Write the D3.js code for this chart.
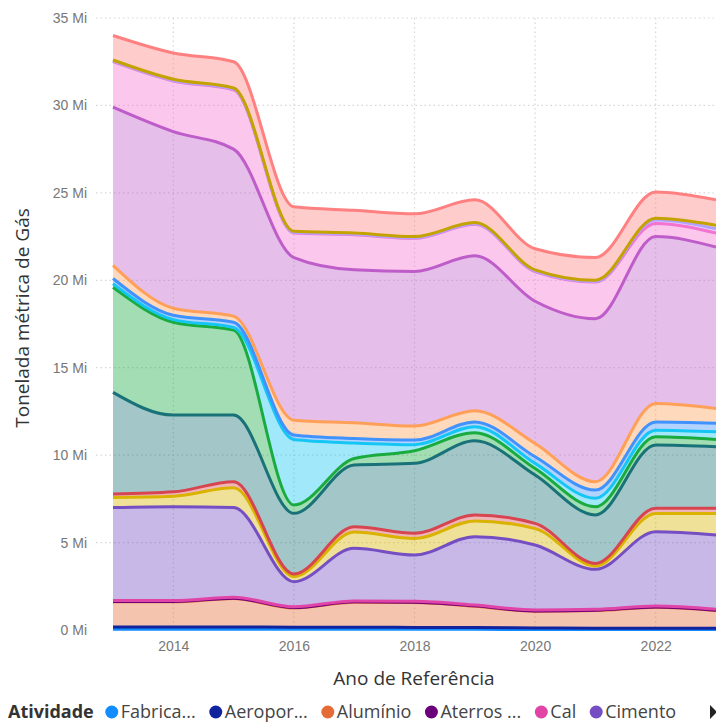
<!DOCTYPE html>
<html>
<head>
<meta charset="utf-8">
<script src="https://cdn.jsdelivr.net/npm/d3@7"></script>
<style>
  body { margin: 0; background: #fff; }
  svg { display: block; font-family: "Segoe UI", "Open Sans", "Noto Sans", sans-serif; }
</style>
</head>
<body>
<svg class="area" width="716" height="722"></svg>
<script>
// data (Mi = milhões de toneladas)
const years = [2013, 2014, 2015, 2016, 2017, 2018, 2019, 2020, 2021, 2022, 2023];
const categories = ["Fabricação de equipamentos", "Aeroportos", "Alumínio", "Aterros sanitários", "Cal", "Cimento",
  "Ferroligas", "Magnésio", "Outras indústrias", "Papel e celulose", "Petroquímica", "Química",
  "Refrigeração", "Siderurgia", "Soda-barrilha", "Vidro", "Zinco", "Uso de HFCs"];
const legendLabels = ["Fabrica...", "Aeropor...", "Alumínio", "Aterros ...", "Cal", "Cimento"];
const yTicks = [0, 5, 10, 15, 20, 25, 30, 35];
const xTicks = [2014, 2016, 2018, 2020, 2022];

const fabricacao  = [0.04, 0.04, 0.04, 0.04, 0.04, 0.04, 0.04, 0.03, 0.03, 0.03, 0.03];
const aeroportos  = [0.13, 0.13, 0.13, 0.12, 0.12, 0.11, 0.10, 0.09, 0.07, 0.07, 0.07];
const aluminio    = [1.44, 1.44, 1.63, 1.10, 1.43, 1.42, 1.22, 0.95, 1.01, 1.20, 1.01];
const aterros     = [0.02, 0.02, 0.02, 0.02, 0.02, 0.02, 0.02, 0.02, 0.02, 0.02, 0.02];
const cal         = [0.05, 0.05, 0.05, 0.05, 0.05, 0.05, 0.05, 0.05, 0.05, 0.05, 0.05];
const cimento     = [5.32, 5.37, 5.13, 1.43, 3.01, 2.65, 3.91, 3.72, 2.29, 4.25, 4.25];
const ferroligas  = [0.58, 0.60, 1.13, 0.29, 0.93, 0.94, 0.89, 0.94, 0.19, 1.04, 1.23];
const magnesio    = [0.20, 0.25, 0.35, 0.15, 0.30, 0.30, 0.35, 0.30, 0.15, 0.30, 0.30];
const outras      = [5.81, 4.39, 3.81, 3.47, 3.53, 4.00, 4.24, 2.76, 2.77, 3.62, 3.52];
const papel       = [6.01, 5.31, 4.86, 0.48, 0.38, 0.72, 0.46, 0.38, 0.47, 0.47, 0.42];
const petroquim   = [0.20, 0.15, 0.15, 3.75, 0.89, 0.35, 0.35, 0.29, 0.48, 0.38, 0.44];
const quimica     = [0.30, 0.25, 0.30, 0.25, 0.25, 0.26, 0.27, 0.38, 0.47, 0.47, 0.48];
const refrigeracao= [0.75, 0.40, 0.35, 0.85, 0.90, 0.80, 0.64, 0.76, 0.48, 1.06, 0.85];
const siderurgia  = [9.05, 10.1, 9.55, 9.30, 8.75, 8.84, 8.86, 8.13, 9.32, 9.54, 9.23];
const soda        = [2.60, 2.90, 3.40, 1.40, 2.00, 1.90, 1.80, 1.70, 2.10, 0.75, 0.80];
const vidro       = [0.03, 0.03, 0.03, 0.03, 0.03, 0.03, 0.03, 0.03, 0.03, 0.20, 0.25];
const zinco       = [0.07, 0.07, 0.07, 0.07, 0.07, 0.07, 0.07, 0.07, 0.07, 0.10, 0.20];
const hfcs        = [1.40, 1.50, 1.50, 1.40, 1.30, 1.30, 1.30, 1.20, 1.30, 1.50, 1.45];

const seriesValues = [fabricacao, aeroportos, aluminio, aterros, cal, cimento, ferroligas, magnesio,
  outras, papel, petroquim, quimica, refrigeracao, siderurgia, soda, vidro, zinco, hfcs];

const palette = ["#118DFF", "#12239E", "#E66C37", "#6B007B", "#E044A7", "#744EC2", "#D9B300", "#D64550",
  "#197278", "#1AAB40", "#15C6F4", "#4092FF", "#FFA058", "#BE5DC9", "#F472D0", "#B5A1FF", "#C4A200", "#FF8080"];

(function stackedAreaIIFE() {
    let svg = d3.select("svg.area");
    let plot = {left: 113, right: 716, top: 18, bottom: 630};

    let table = years.map(function(yr, i) {
        let row = {year: yr};
        categories.forEach(function(c, k) { row[c] = seriesValues[k][i] * 1e6; });
        return row;
    });

    let x = d3.scaleLinear().domain([2013, 2023]).range([plot.left, plot.right]);
    let y = d3.scaleLinear().domain([0, 35e6]).range([plot.bottom, plot.top]);
    let color = d3.scaleOrdinal().domain(categories).range(palette);

    let stacked = d3.stack().keys(categories)(table);

    // gridlines
    let grid = svg.append("g").attr("class", "grid");
    grid.selectAll(".hgrid")
        .data(yTicks.slice(1))
        .enter().append("line")
        .attr("x1", 96).attr("x2", plot.right)
        .attr("y1", function(d) { return y(d * 1e6); })
        .attr("y2", function(d) { return y(d * 1e6); })
        .attr("stroke", "#d6d6d6").attr("stroke-width", 1.2)
        .attr("stroke-dasharray", "1.5,3");
    grid.selectAll(".vgrid")
        .data(xTicks)
        .enter().append("line")
        .attr("x1", function(d) { return x(d); })
        .attr("x2", function(d) { return x(d); })
        .attr("y1", plot.top).attr("y2", plot.bottom)
        .attr("stroke", "#d6d6d6").attr("stroke-width", 1.2)
        .attr("stroke-dasharray", "1.5,3");

    let area = d3.area()
        .curve(d3.curveMonotoneX)
        .x(function(d) { return x(d.data.year); })
        .y0(function(d) { return y(d[0]); })
        .y1(function(d) { return y(d[1]); });

    let line = d3.line()
        .curve(d3.curveMonotoneX)
        .x(function(d) { return x(d.data.year); })
        .y(function(d) { return y(d[1]); });

    svg.append("g").selectAll("path")
        .data(stacked)
        .enter().append("path")
        .attr("d", area)
        .attr("fill", function(d) { return color(d.key); })
        .attr("fill-opacity", 0.4);

    svg.append("g").selectAll("path")
        .data(stacked)
        .enter().append("path")
        .attr("d", line)
        .attr("fill", "none")
        .attr("stroke", function(d) { return color(d.key); })
        .attr("stroke-width", 3)
        .attr("stroke-linejoin", "round");

    // y axis labels
    let yAxis = svg.append("g")
        .attr("transform", "translate(87,0)")
        .call(d3.axisLeft(y).tickValues(yTicks.map(function(d) { return d * 1e6; }))
            .tickSize(0).tickPadding(0)
            .tickFormat(function(d) { return (d / 1e6) + " Mi"; }));
    yAxis.select(".domain").remove();
    yAxis.selectAll("text").attr("fill", "#777").style("font-size", "14px");

    // x axis labels
    let xAxis = svg.append("g")
        .attr("transform", "translate(0," + (plot.bottom + 11) + ")")
        .call(d3.axisBottom(x).tickValues(xTicks)
            .tickSize(0).tickPadding(0).tickFormat(d3.format("d")));
    xAxis.select(".domain").remove();
    xAxis.selectAll("text").attr("fill", "#777").style("font-size", "14px");

    svg.append("text")
        .attr("x", 414).attr("y", 685)
        .attr("text-anchor", "middle")
        .attr("fill", "#333").style("font-size", "19px")
        .text("Ano de Referência");

    svg.append("text")
        .attr("transform", "translate(29,318) rotate(-90)")
        .attr("text-anchor", "middle")
        .attr("fill", "#333").style("font-size", "19px")
        .text("Tonelada métrica de Gás");

    // legend
    let legend = svg.append("g").attr("transform", "translate(0,712)");
    let title = legend.append("text")
        .attr("x", 8).attr("y", 6)
        .attr("fill", "#333").style("font-size", "18px").style("font-weight", "bold")
        .text("Atividade");
    let cx = 8 + title.node().getComputedTextLength() + 18;
    legendLabels.forEach(function(lbl, i) {
        legend.append("circle")
            .attr("cx", cx).attr("cy", 0).attr("r", 6.5)
            .attr("fill", palette[i]);
        let t = legend.append("text")
            .attr("x", cx + 9).attr("y", 6)
            .attr("fill", "#444").style("font-size", "18px")
            .text(lbl);
        cx += 9 + t.node().getComputedTextLength() + 20;
    });
    legend.append("path")
        .attr("d", "M710,-7 L717,0 L710,7 Z")
        .attr("fill", "#222");
})();
</script>
</body>
</html>
